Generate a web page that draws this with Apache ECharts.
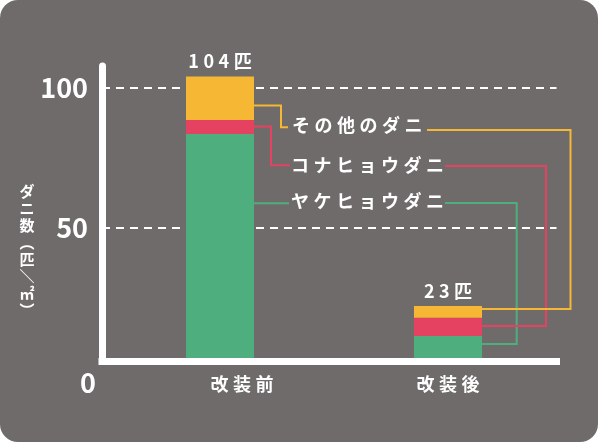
<!DOCTYPE html>
<html><head><meta charset="utf-8">
<script src="https://cdn.jsdelivr.net/npm/echarts@6/dist/echarts.min.js"></script>
<style>
html,body{margin:0;padding:0;background:#ffffff;}
#c{width:598px;height:442px;background:#6f6b6a;border-radius:18px;overflow:hidden;}
</style>
</head><body><div id="c"></div>
<script>
// ---- data ----
const categories = ['改装前', '改装後'];
const seriesNames = ['ヤケヒョウダニ', 'コナヒョウダニ', 'その他のダニ'];
const yakeValues = [83.5, 11.3];
const konaValues = [5, 6.5];
const otherValues = [15.5, 4.2];
const totalLabels = [104, 23];
const yTickValues = [0, 50, 100];
const yAxisName = ['ダ', 'ニ', '数', '︵', '匹', '＼', '㎡', '︶'];
// leader anchor values on each bar: [yake, kona, other]
const leaderAnchorsBefore = [58.7, 86.1, 93.6];
const leaderAnchorsAfter = [8.5, 14.9, 21.0];

// ---- style ----
const FONT = '"Noto Sans CJK JP", "Noto Sans", sans-serif';
const COLORS = ['#4fae7e', '#e54262', '#f6b734'];
const BAR_W = 68;
const SP = '\u2005';
const spaced = s => Array.from(String(s)).join(SP);

const chart = echarts.init(document.getElementById('c'), null, {renderer: 'canvas'});

const gridAxes = {left: 102, right: 41.5, top: 66, bottom: 80.5};
const gridBars = {left: 106, right: 36, top: 66, bottom: 80.5};
const gridTicks = {left: 102, right: 41.5, top: 66, bottom: 74.3};

const valuesBySeries = [yakeValues, konaValues, otherValues];

const option = {
  backgroundColor: 'transparent',
  animation: false,
  grid: [gridAxes, gridBars, gridTicks],
  xAxis: [
    {gridIndex: 0, type: 'category', data: categories, z: 10,
     axisLine: {show: true, lineStyle: {color: '#ffffff', width: 7, cap: 'square'}},
     axisTick: {show: false}, axisLabel: {show: false}, splitLine: {show: false}},
    {gridIndex: 1, type: 'category', data: categories,
     axisLine: {show: false}, axisTick: {show: false}, splitLine: {show: false},
     axisLabel: {
       margin: 14, color: '#ffffff', fontSize: 18, fontWeight: 'bold', fontFamily: FONT,
       formatter: (v, i) => i === 0 ? '{s|' + spaced(v) + '}' : '{t|' + spaced(v) + '}',
       rich: {
         s: {color: '#ffffff', fontSize: 18, fontWeight: 'bold', fontFamily: FONT, padding: [0, 0, 0, 44]},
         t: {color: '#ffffff', fontSize: 18, fontWeight: 'bold', fontFamily: FONT}
       }
     }},
    {gridIndex: 2, type: 'category', data: categories, show: false}
  ],
  yAxis: [
    {gridIndex: 0, type: 'value', min: 0, max: 1, z: 10,
     axisLine: {show: true, lineStyle: {color: '#ffffff', width: 7}},
     axisTick: {show: false}, axisLabel: {show: false}, splitLine: {show: false}},
    {gridIndex: 1, type: 'value', min: 2.214, max: 107.75, show: false, splitLine: {show: false}},
    {gridIndex: 2, type: 'value', min: 0, max: 107.75, interval: 50,
     axisLine: {show: false}, axisTick: {show: false},
     splitLine: {show: true, showMinLine: false, showMaxLine: false,
                 lineStyle: {color: '#ffffff', width: 2, type: [8, 6]}},
     axisLabel: {
       margin: 6,
       formatter: v => yTickValues.indexOf(v) < 0 ? '' : (v === 0 ? '{z|0}' : '{n|' + v + '}'),
       rich: {
         n: {color: '#ffffff', fontSize: 27, fontWeight: 'bold', fontFamily: FONT, padding: [0, 8, 0, 0]},
         z: {color: '#ffffff', fontSize: 27, fontWeight: 'bold', fontFamily: FONT, padding: [31, 0, 0, 0]}
       }
     }}
  ],
  series: valuesBySeries.map((vals, k) => ({
    type: 'bar', name: seriesNames[k], xAxisIndex: 1, yAxisIndex: 1, stack: 'total',
    data: vals, barWidth: BAR_W, silent: true, clip: true,
    itemStyle: {color: COLORS[k]},
    label: k === 2 ? {
      show: true, position: 'top', distance: 6,
      formatter: p => spaced(totalLabels[p.dataIndex] + '匹'),
      color: '#ffffff', fontSize: 18, fontWeight: 'bold', fontFamily: FONT
    } : {show: false}
  }))
};
chart.setOption(option);

// ---- leader lines & series labels (annotations attached to the bars) ----
function barRight(i, v) {
  const p = chart.convertToPixel({gridIndex: 1}, [i, v]);
  return [p[0] + BAR_W / 2, p[1]];
}
const rows = [
  {textX: 291, textY: 201, leftElbowX: null, leftY: null, leftEndX: 289, rStart: 445, rY: 203, rElbow: 516.7},
  {textX: 291, textY: 165, leftElbowX: 271, leftY: 165.3, leftEndX: 290, rStart: 445, rY: 166, rElbow: 546},
  {textX: 292, textY: 125, leftElbowX: 281, leftY: 127.3, leftEndX: 288, rStart: 427, rY: 130, rElbow: 570.5}
];
const graphics = [];
rows.forEach((r, k) => {
  const a = barRight(0, leaderAnchorsBefore[k]);
  const b = barRight(1, leaderAnchorsAfter[k]);
  let left;
  if (r.leftElbowX === null) {
    left = [a, [r.leftEndX, a[1]]];
  } else {
    left = [a, [r.leftElbowX, a[1]], [r.leftElbowX, r.leftY], [r.leftEndX, r.leftY]];
  }
  const right = [[r.rStart, r.rY], [r.rElbow, r.rY], [r.rElbow, b[1]], b];
  graphics.push({type: 'polyline', silent: true, shape: {points: left},
    style: {stroke: COLORS[k], lineWidth: 2, fill: null, lineJoin: 'miter'}});
  graphics.push({type: 'polyline', silent: true, shape: {points: right},
    style: {stroke: COLORS[k], lineWidth: 2, fill: null, lineJoin: 'miter'}});
  graphics.push({type: 'text', silent: true, x: r.textX, y: r.textY,
    style: {text: spaced(seriesNames[k]), fill: '#ffffff', fontSize: 18, fontWeight: 'bold',
            fontFamily: FONT, align: 'left', verticalAlign: 'middle'}});
});
graphics.push({type: 'text', silent: true, x: 27, y: 183,
  style: {text: yAxisName.join('\n'), fill: '#ffffff', fontSize: 15, fontWeight: 'bold',
          fontFamily: FONT, align: 'center', verticalAlign: 'top', lineHeight: 17}});
chart.setOption({graphic: graphics});
</script>
</body></html>
